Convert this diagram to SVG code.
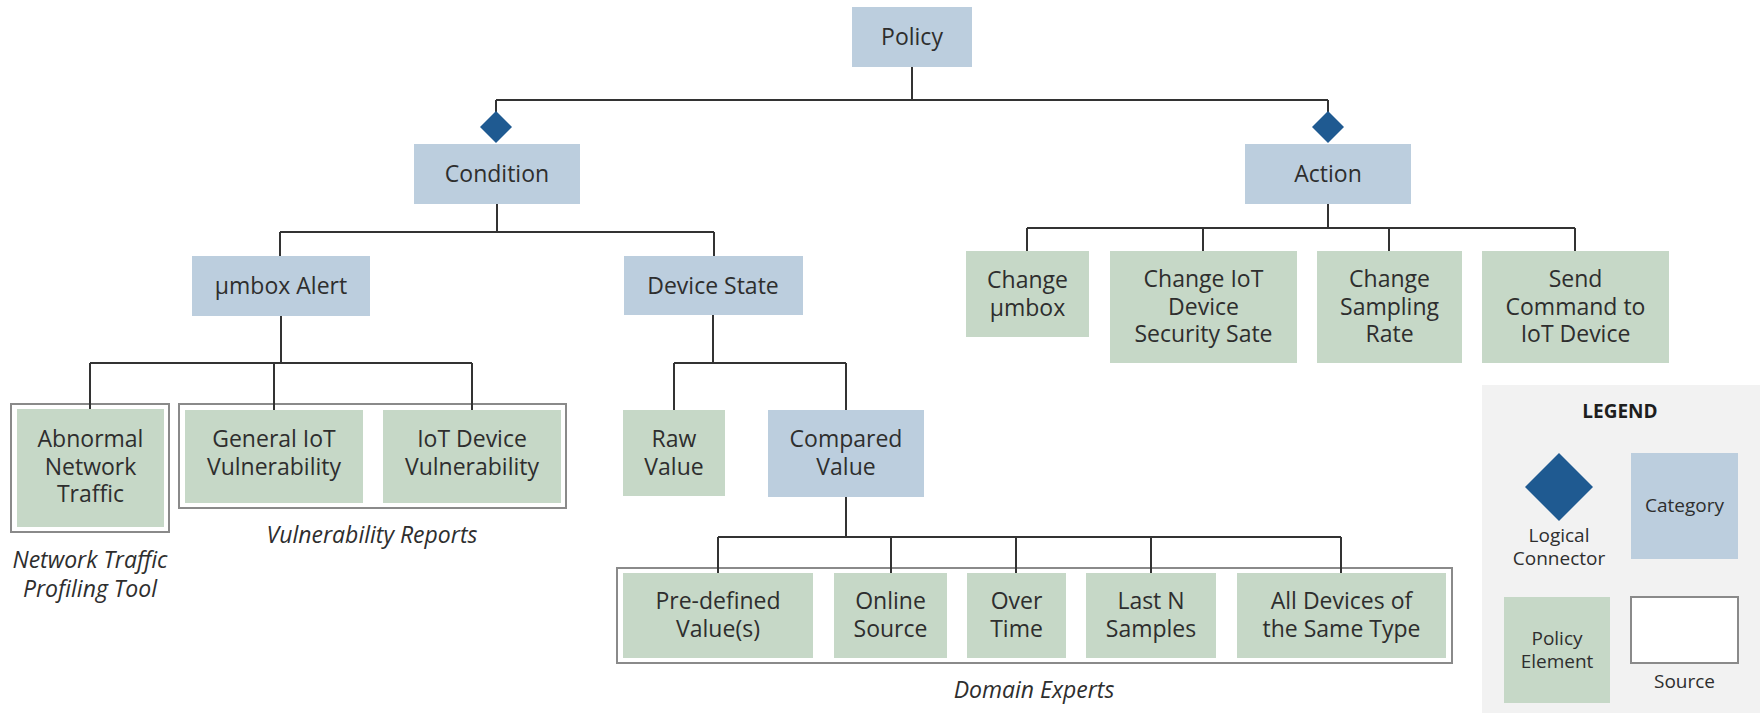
<svg xmlns="http://www.w3.org/2000/svg" width="1760" height="724" viewBox="0 0 1760 724">
  <style>
    .cat { fill: #bccede; }
    .elem { fill: #c6d8c7; }
    .src { fill: #ffffff; stroke: #8a8a8a; stroke-width: 2; }
    .conn { fill: #1f5a91; }
    .wire { fill: none; stroke: #333333; stroke-width: 2; }
    .t { font-family: "Open Sans", "Liberation Sans", sans-serif; font-size: 23px; fill: #2e2e2e; text-anchor: middle; }
    .src-label { font-family: "Open Sans", "Liberation Sans", sans-serif; font-size: 23px; font-style: italic; fill: #2e2e2e; text-anchor: middle; }
    .lg { font-family: "Open Sans", "Liberation Sans", sans-serif; font-size: 19px; fill: #2e2e2e; text-anchor: middle; }
    .lg-title { font-family: "Open Sans", "Liberation Sans", sans-serif; font-size: 19px; font-weight: bold; fill: #1e1e1e; text-anchor: middle; }
  </style>

  <rect width="1760" height="724" fill="#ffffff"/>

  <!-- source frames (drawn beneath the elements they group) -->
  <g id="sources">
    <rect class="src" x="11" y="404" width="158" height="128"/>
    <rect class="src" x="179" y="404" width="387" height="104"/>
    <rect class="src" x="617" y="568" width="835" height="95"/>
  </g>

  <!-- tree connectors -->
  <g id="connectors">
    <path class="wire" d="M912 67 V100 M496 100 H1328 M496 100 V112 M1328 100 V112"/>
    <path class="wire" d="M497 204 V232 M280 232 H714 M280 232 V256 M714 232 V256"/>
    <path class="wire" d="M1328 204 V228 M1027 228 H1575 M1027 228 V251 M1203 228 V251 M1389 228 V251 M1575 228 V251"/>
    <path class="wire" d="M281 316 V363 M90 363 H472 M90 363 V409 M274 363 V410 M472 363 V410"/>
    <path class="wire" d="M713 315 V363 M674 363 H846 M674 363 V410 M846 363 V410"/>
    <path class="wire" d="M846 497 V537 M718 537 H1341 M718 537 V573 M891 537 V573 M1016 537 V573 M1151 537 V573 M1341 537 V573"/>
  </g>

  <!-- logical connectors -->
  <g id="and-condition"><polygon class="conn" points="496,111 512,127 496,143 480,127"/></g>
  <g id="and-action"><polygon class="conn" points="1328,111 1344,127 1328,143 1312,127"/></g>

  <g id="policy">
    <rect class="cat" x="852" y="7" width="120" height="60"/>
    <text class="t" x="912" y="45">Policy</text>
  </g>
  <g id="condition">
    <rect class="cat" x="414" y="144" width="166" height="60"/>
    <text class="t" x="497" y="182">Condition</text>
  </g>
  <g id="action">
    <rect class="cat" x="1245" y="144" width="166" height="60"/>
    <text class="t" x="1328" y="182">Action</text>
  </g>
  <g id="umbox-alert">
    <rect class="cat" x="192" y="256" width="178" height="60"/>
    <text class="t" x="281" y="294">µmbox Alert</text>
  </g>
  <g id="device-state">
    <rect class="cat" x="624" y="256" width="179" height="59"/>
    <text class="t" x="713" y="294">Device State</text>
  </g>

  <g id="change-umbox">
    <rect class="elem" x="966" y="251" width="123" height="86"/>
    <text class="t" x="1027.5" y="288">Change</text>
    <text class="t" x="1027.5" y="316">µmbox</text>
  </g>
  <g id="change-security-state">
    <rect class="elem" x="1110" y="251" width="187" height="112"/>
    <text class="t" x="1203.5" y="287">Change IoT</text>
    <text class="t" x="1203.5" y="315">Device</text>
    <text class="t" x="1203.5" y="342">Security Sate</text>
  </g>
  <g id="change-sampling-rate">
    <rect class="elem" x="1317" y="251" width="145" height="112"/>
    <text class="t" x="1389.5" y="287">Change</text>
    <text class="t" x="1389.5" y="315">Sampling</text>
    <text class="t" x="1389.5" y="342">Rate</text>
  </g>
  <g id="send-command">
    <rect class="elem" x="1482" y="251" width="187" height="112"/>
    <text class="t" x="1575.5" y="287">Send</text>
    <text class="t" x="1575.5" y="315">Command to</text>
    <text class="t" x="1575.5" y="342">IoT Device</text>
  </g>

  <g id="abnormal-traffic">
    <rect class="elem" x="17" y="409" width="147" height="118"/>
    <text class="t" x="90.5" y="447">Abnormal</text>
    <text class="t" x="90.5" y="475">Network</text>
    <text class="t" x="90.5" y="502">Traffic</text>
  </g>
  <g id="general-vulnerability">
    <rect class="elem" x="185" y="410" width="178" height="93"/>
    <text class="t" x="274" y="447">General IoT</text>
    <text class="t" x="274" y="475">Vulnerability</text>
  </g>
  <g id="device-vulnerability">
    <rect class="elem" x="383" y="410" width="178" height="93"/>
    <text class="t" x="472" y="447">IoT Device</text>
    <text class="t" x="472" y="475">Vulnerability</text>
  </g>

  <g id="raw-value">
    <rect class="elem" x="623" y="410" width="102" height="86"/>
    <text class="t" x="674" y="447">Raw</text>
    <text class="t" x="674" y="475">Value</text>
  </g>
  <g id="compared-value">
    <rect class="cat" x="768" y="410" width="156" height="87"/>
    <text class="t" x="846" y="447">Compared</text>
    <text class="t" x="846" y="475">Value</text>
  </g>

  <g id="predefined-values">
    <rect class="elem" x="623" y="573" width="190" height="85"/>
    <text class="t" x="718" y="609">Pre-defined</text>
    <text class="t" x="718" y="637">Value(s)</text>
  </g>
  <g id="online-source">
    <rect class="elem" x="834" y="573" width="113" height="85"/>
    <text class="t" x="890.5" y="609">Online</text>
    <text class="t" x="890.5" y="637">Source</text>
  </g>
  <g id="over-time">
    <rect class="elem" x="967" y="573" width="99" height="85"/>
    <text class="t" x="1016.5" y="609">Over</text>
    <text class="t" x="1016.5" y="637">Time</text>
  </g>
  <g id="last-n-samples">
    <rect class="elem" x="1086" y="573" width="130" height="85"/>
    <text class="t" x="1151" y="609">Last N</text>
    <text class="t" x="1151" y="637">Samples</text>
  </g>
  <g id="same-type-devices">
    <rect class="elem" x="1237" y="573" width="209" height="85"/>
    <text class="t" x="1341.5" y="609">All Devices of</text>
    <text class="t" x="1341.5" y="637">the Same Type</text>
  </g>

  <!-- source captions -->
  <g id="source-labels">
    <text class="src-label" x="90" y="568">Network Traffic</text>
    <text class="src-label" x="90" y="597">Profiling Tool</text>
    <text class="src-label" x="372" y="543">Vulnerability Reports</text>
    <text class="src-label" x="1034" y="698">Domain Experts</text>
  </g>

  <!-- key -->
  <g id="legend">
    <rect x="1482" y="385" width="278" height="328" fill="#f2f2f2"/>
    <text class="lg-title" x="1620" y="418">LEGEND</text>
    <polygon class="conn" points="1559,453 1593,487 1559,521 1525,487"/>
    <text class="lg" x="1559" y="542">Logical</text>
    <text class="lg" x="1559" y="565">Connector</text>
    <rect class="cat" x="1631" y="453" width="107" height="106"/>
    <text class="lg" x="1684.5" y="512">Category</text>
    <rect class="elem" x="1504" y="597" width="106" height="106"/>
    <text class="lg" x="1557" y="645">Policy</text>
    <text class="lg" x="1557" y="668">Element</text>
    <rect class="src" x="1631" y="597" width="107" height="66"/>
    <text class="lg" x="1684.5" y="688">Source</text>
  </g>
</svg>
